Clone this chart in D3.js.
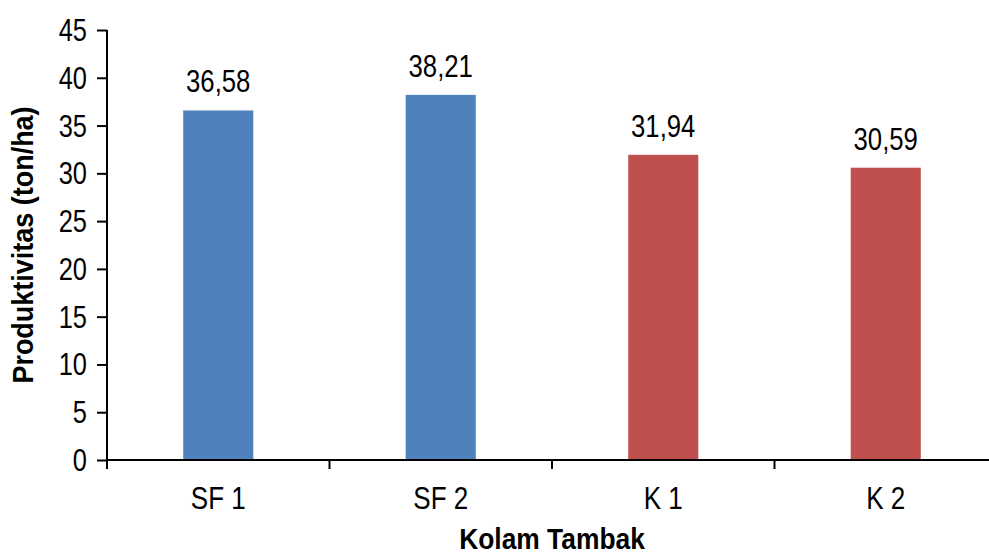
<!DOCTYPE html>
<html>
<head>
<meta charset="utf-8">
<script src="https://cdn.jsdelivr.net/npm/d3@7"></script>
<style>
  body { margin: 0; background: #fff; }
  text { font-family: "Liberation Sans", Arial, sans-serif; }
</style>
</head>
<body>
<div id="container"></div>
<script>
const width = 989
const height = 556
const margin = {left: 107, top: 30, right: -8, bottom: 96}
const g_width = width - margin.left - margin.right
const g_height = height - margin.top - margin.bottom
const narrow = 0.82 // squeeze text like Arial Narrow

// data
const categories = ["SF 1", "SF 2", "K 1", "K 2"]
const values = [36.58, 38.21, 31.94, 30.59]
const colors = ["#4F81BD", "#4F81BD", "#C0504D", "#C0504D"]
const yTicks = [0, 5, 10, 15, 20, 25, 30, 35, 40, 45]

const svg = d3.select("#container")
  .append("svg")
  .attr("width", width)
  .attr("height", height)

const g = svg.append("g")
  .attr("transform", `translate(${margin.left},${margin.top})`)

const scale_x = d3.scaleBand()
  .domain(categories)
  .range([0, g_width])
  .paddingInner(0.685)
  .paddingOuter(0.3425)

const scale_y = d3.scaleLinear()
  .domain([0, 45])
  .range([g_height, 0])

// narrow text helper
function label(parent, x, y, str, size, opts = {}) {
  const sq = opts.squeeze || narrow
  const t = parent.append("g")
    .attr("transform", `translate(${x},${y}) ${opts.rotate ? "rotate(-90)" : ""} scale(${sq},1)`)
    .append("text")
    .attr("text-anchor", opts.anchor || "middle")
    .attr("font-size", size)
    .attr("fill", "#000")
    .text(str)
  if (opts.bold) t.attr("font-weight", "bold")
  return t
}

// bars
g.selectAll("rect.bar")
  .data(values)
  .join("rect")
  .attr("class", "bar")
  .attr("x", (d, i) => scale_x(categories[i]))
  .attr("y", d => scale_y(d))
  .attr("width", scale_x.bandwidth())
  .attr("height", d => g_height - scale_y(d))
  .attr("fill", (d, i) => colors[i])

// value labels
values.forEach((d, i) => {
  label(g, scale_x(categories[i]) + scale_x.bandwidth() / 2, scale_y(d) - 18,
    d.toFixed(2).replace(".", ","), 31, {squeeze: 0.83})
})

// y axis
const y_axis = d3.axisLeft(scale_y).tickValues(yTicks).tickSize(10).tickFormat("")
const yg = g.append("g").call(y_axis)
yg.select(".domain").attr("stroke", "#000").attr("stroke-width", 2).attr("d", `M0,${g_height}V0`)
yg.selectAll(".tick line").attr("stroke-width", 2)
yTicks.forEach(v => {
  label(yg, -20, scale_y(v) + 11, String(v), 31, {anchor: "end"})
})

// x axis: ticks between categories
const boundaries = d3.range(categories.length + 1).map(i => i * g_width / categories.length)
const xg = g.append("g").attr("transform", `translate(0,${g_height})`)
xg.append("line")
  .attr("x1", 0).attr("x2", g_width)
  .attr("stroke", "#000").attr("stroke-width", 2)
xg.selectAll("line.tk")
  .data(boundaries)
  .join("line")
  .attr("class", "tk")
  .attr("x1", d => d).attr("x2", d => d)
  .attr("y1", 0).attr("y2", 9)
  .attr("stroke", "#000").attr("stroke-width", 2)
categories.forEach(c => {
  label(xg, scale_x(c) + scale_x.bandwidth() / 2, 49, c, 31, {squeeze: 0.84})
})

// axis titles
label(svg, 552, 549, "Kolam Tambak", 29, {bold: true, squeeze: 0.91})
label(svg, 33, margin.top + g_height / 2, "Produktivitas (ton/ha)", 29, {bold: true, rotate: true, squeeze: 0.93})
</script>
</body>
</html>
